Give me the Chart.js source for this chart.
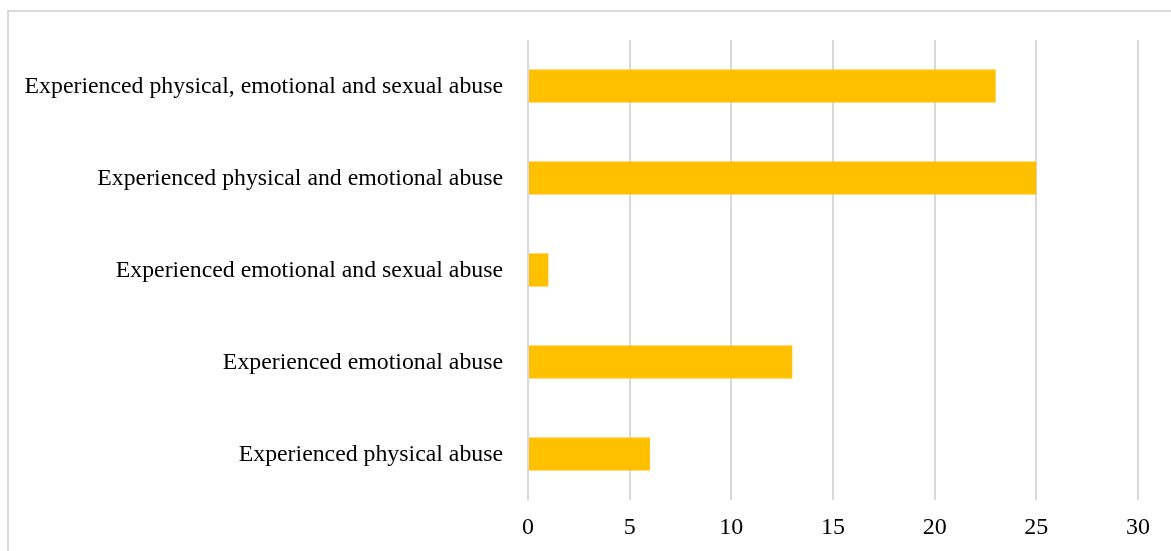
<!DOCTYPE html>
<html>
<head>
<meta charset="utf-8">
<script src="https://cdn.jsdelivr.net/npm/chart.js@4/dist/chart.umd.min.js"></script>
<style>
  html, body { margin: 0; padding: 0; background: #ffffff; overflow: hidden; }
  #wrap { position: relative; width: 1171px; height: 551px; }
  #frame { position: absolute; left: 7px; top: 10px; width: 1200px; height: 600px; border: 2px solid #d9d9d9; box-sizing: border-box; }
  canvas { position: absolute; left: 0; top: 0; }
</style>
</head>
<body>
<div id="wrap">
  <div id="frame"></div>
  <canvas id="chart" width="1171" height="551"></canvas>
</div>
<script>
const categories = [
  "Experienced physical, emotional and sexual abuse",
  "Experienced physical and emotional abuse",
  "Experienced emotional and sexual abuse",
  "Experienced emotional abuse",
  "Experienced physical abuse"
];
const counts = [23, 25, 1, 13, 6];
const xTicks = [0, 5, 10, 15, 20, 25, 30];

const serif = "'Liberation Serif', 'Times New Roman', serif";

new Chart(document.getElementById('chart'), {
  type: 'bar',
  data: {
    labels: categories,
    datasets: [{
      data: counts,
      backgroundColor: '#FFC000',
      borderWidth: 0,
      categoryPercentage: 1,
      barPercentage: 0.36
    }]
  },
  options: {
    indexAxis: 'y',
    responsive: false,
    animation: false,
    devicePixelRatio: 1,
    layout: { padding: { left: 0, right: 33, top: 40, bottom: 0 } },
    plugins: { legend: { display: false }, tooltip: { enabled: false } },
    scales: {
      x: {
        min: xTicks[0],
        max: xTicks[xTicks.length - 1],
        afterBuildTicks: (s) => { s.ticks = xTicks.map(v => ({ value: v })); },
        afterFit: (s) => { s.height = 51; },
        border: { display: false },
        grid: { color: '#d9d9d9', lineWidth: 2, drawTicks: false },
        ticks: { padding: 13, color: '#000000', font: { family: serif, size: 24 } }
      },
      y: {
        afterFit: (s) => { s.width = 528; },
        border: { display: false },
        grid: { display: false, drawTicks: false },
        ticks: { padding: 25, labelOffset: 1, color: '#000000', font: { family: serif, size: 23.8 } }
      }
    }
  }
});
</script>
</body>
</html>
